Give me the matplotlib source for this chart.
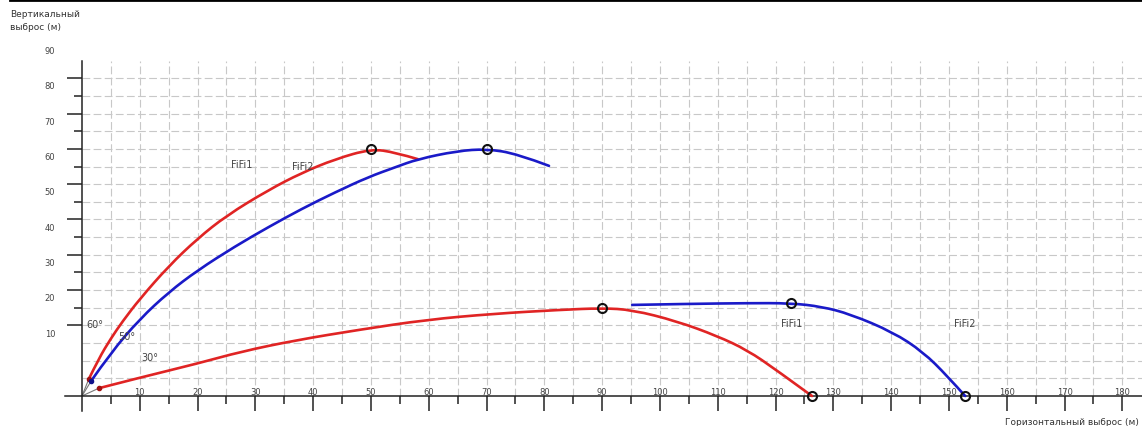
import matplotlib
matplotlib.use('Agg')
import matplotlib.pyplot as plt
import matplotlib.transforms as mtransforms
from matplotlib.lines import Line2D
from matplotlib.path import Path
from matplotlib.patches import PathPatch

# Trajectories, y measured from the x axis (chart's y labels are shifted by 10).
red60_x = [1.15, 2.9, 5.0, 7.0, 10.0, 15.0, 20.0, 25.0, 32.2, 38.0, 43.8, 50.0, 54.2, 58.1]
red60_y = [4.7, 10.6, 16.3, 21.1, 27.5, 36.8, 44.6, 51.1, 58.3, 63.2, 67.1, 70.0, 69.0, 67.1]
blue50_x = [1.6, 5.0, 10.0, 15.0, 20.0, 26.5, 32.2, 38.0, 43.8, 49.5, 54.2, 58.1, 64.9, 70.0, 75.3, 80.8]
blue50_y = [4.3, 12.3, 21.8, 29.4, 35.6, 42.4, 47.8, 53.0, 57.7, 62.0, 64.8, 67.1, 69.4, 70.0, 68.6, 65.2]
red30_x = [2.9, 10.0, 20.0, 27.6, 37.0, 48.1, 59.6, 71.2, 82.7, 90.0, 95.2, 102.9, 109.9, 115.1, 120.2, 126.3]
red30_y = [2.2, 5.2, 9.2, 12.6, 15.8, 18.8, 21.6, 23.3, 24.4, 24.9, 24.4, 21.2, 17.0, 13.0, 7.3, 0.0]
blue2_x = [95.2, 105.0, 115.0, 122.7, 128.0, 132.9, 140.3, 145.5, 149.7, 152.8]
blue2_y = [25.8, 26.1, 26.3, 26.3, 25.3, 23.2, 18.1, 12.5, 5.7, 0.0]

# open circle markers
circle_x = [50.0, 70.0, 90.0, 122.7, 126.3, 152.8]
circle_y = [70.0, 70.0, 24.9, 26.3, 0.0, 0.0]

x_major = list(range(10, 181, 10))
x_minor = list(range(5, 181, 10))
y_tick_pos = list(range(20, 91, 10))
y_minor = list(range(25, 90, 10))
y_labels = [10, 20, 30, 40, 50, 60, 70, 80, 90]

notes = [
    ('FiFi1', 27.7, 65.7), ('FiFi2', 38.2, 65.2),
    ('60°', 2.2, 20.4), ('50°', 7.8, 17.0), ('30°', 11.8, 11.0),
    ('FiFi1', 122.8, 20.7), ('FiFi2', 152.8, 20.7),
]

RED = '#e02424'
BLUE = '#1a1ac8'
GRID = '#c8c8c8'
TXT = '#444444'


def smooth_curve(ax, xs, ys, color):
    # quadratic bezier through midpoints, so the polyline reads as a smooth arc
    pts = list(zip(xs, ys))
    verts = [pts[0]]
    codes = [Path.MOVETO]
    for i in range(1, len(pts) - 1):
        if i < len(pts) - 2:
            end = ((pts[i][0] + pts[i + 1][0]) / 2, (pts[i][1] + pts[i + 1][1]) / 2)
        else:
            end = pts[i + 1]
        verts += [pts[i], end]
        codes += [Path.CURVE3, Path.CURVE3]
    ax.add_patch(PathPatch(Path(verts, codes), fill=False, edgecolor=color, lw=1.9,
                           capstyle='round', zorder=3))


fig = plt.figure(figsize=(11.42, 4.27), dpi=100)
ax = fig.add_axes([65/1142, 15/427, 1077/1142, 350/427])
ax.set_xlim(-2.94, 183.4)
ax.set_ylim(-4.25, 94.9)

# dashed grid, only in the positive quadrant
for gx in range(5, 185, 5):
    ax.plot([gx, gx], [0, 94.9], color=GRID, lw=0.8, ls=(0, (7, 3)), zorder=1)
for gy in range(5, 95, 5):
    ax.plot([0, 183.4], [gy, gy], color=GRID, lw=0.8, ls=(0, (7, 3)), zorder=1)

for s in ['top', 'right']:
    ax.spines[s].set_visible(False)
for s in ['left', 'bottom']:
    ax.spines[s].set_position(('data', 0))
    ax.spines[s].set_linewidth(1.1)
    ax.spines[s].set_color('#222222')

ax.set_xticks(x_major)
ax.set_xticks(x_minor, minor=True)
ax.set_yticks(y_tick_pos)
ax.set_yticks(y_minor, minor=True)
ax.set_xticklabels([])
ax.set_yticklabels([])
ax.tick_params(which='major', direction='out', length=11, width=1.1, color='#222222')
ax.tick_params(which='minor', direction='out', length=5.5, width=1.1, color='#222222')

# tick labels: x above the axis, y shifted down a bit
xoff = mtransforms.offset_copy(ax.transData, fig=fig, y=3.2, units='points')
for v in x_major:
    ax.text(v, 0, str(v), transform=xoff, ha='center', va='center', fontsize=6, color=TXT)
ytr = mtransforms.offset_copy(ax.get_yaxis_transform(), fig=fig, y=-5.5, units='points')
for v in y_labels:
    ax.text(-0.014, v + 10, str(v), transform=ytr, ha='center', va='center', fontsize=6,
            color=TXT, clip_on=False)

# nozzle lines from origin
for sx, sy in [(red60_x[0], red60_y[0]), (blue50_x[0], blue50_y[0]), (red30_x[0], red30_y[0])]:
    ax.plot([0, sx], [0, sy], color='#777777', lw=0.8, zorder=2)

smooth_curve(ax, red60_x, red60_y, RED)
smooth_curve(ax, blue50_x, blue50_y, BLUE)
smooth_curve(ax, red30_x, red30_y, RED)
smooth_curve(ax, blue2_x, blue2_y, BLUE)

ax.plot([red60_x[0], red30_x[0]], [red60_y[0], red30_y[0]], 'o', color='#a01010', ms=3, zorder=4)
ax.plot([blue50_x[0]], [blue50_y[0]], 'o', color='#10108a', ms=3, zorder=4)
ax.plot(circle_x, circle_y, 'o', mfc='none', mec='#111111', mew=1.5, ms=6.5, zorder=5,
        clip_on=False)

for t, tx, ty in notes:
    ax.text(tx, ty, t, ha='center', va='center', fontsize=7, color=TXT)

fig.add_artist(Line2D([0.009, 1], [0.997, 0.997], transform=fig.transFigure, color='black', lw=2))
fig.text(10/1142, 1 - 10/427, 'Вертикальный\nвыброс (м)', ha='left', va='top', fontsize=6.5,
         color='#333333', linespacing=1.5)
fig.text(1005/1142, 1 - 423/427, 'Горизонтальный выброс (м)', ha='left', va='center',
         fontsize=6.5, color='#333333')

fig.savefig('out.png', dpi=100, facecolor='white')
